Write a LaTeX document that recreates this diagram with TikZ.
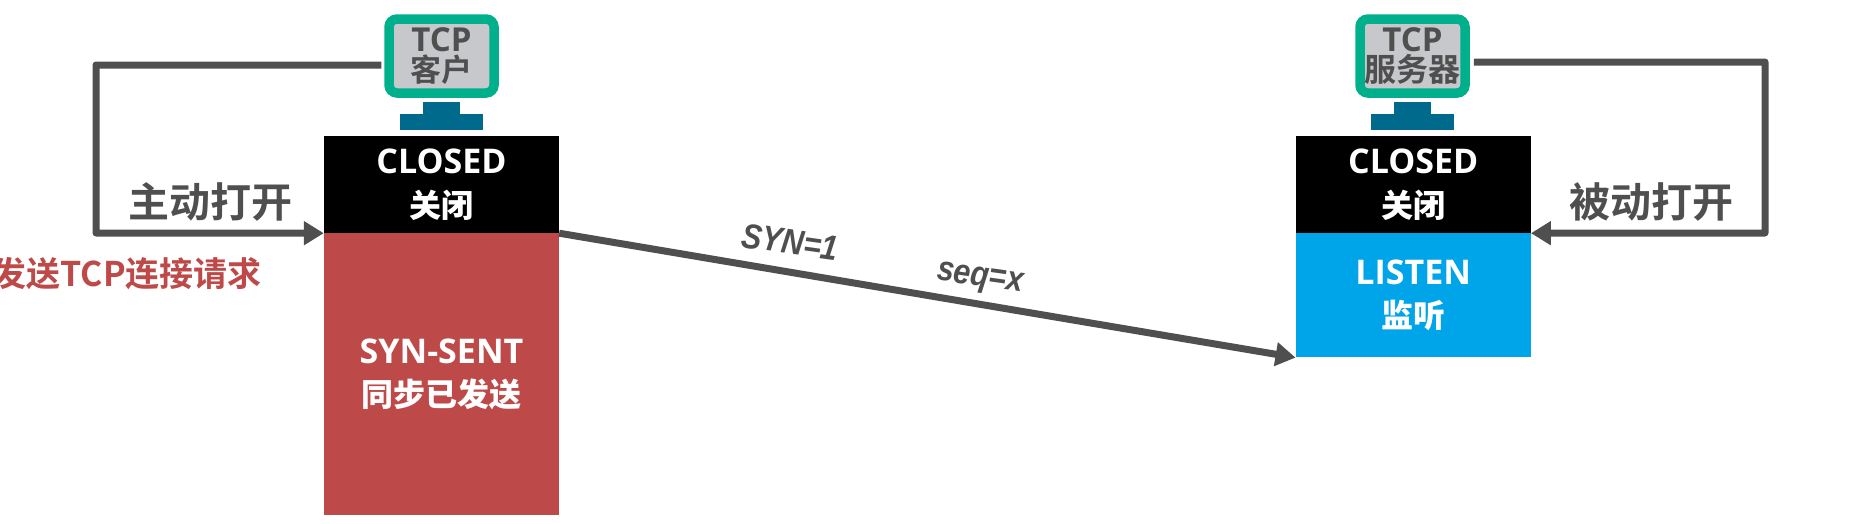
\documentclass[tikz,border=0pt]{standalone}
\usepackage{fontspec}
\setmainfont{Open Sans}
\newfontfamily\cjkbold{Noto Sans CJK SC Bold}
\newfontfamily\flagfont{Liberation Sans}
\usetikzlibrary{positioning,arrows.meta,calc}
\definecolor{linegray}{HTML}{4F4F4F}
\definecolor{screengreen}{HTML}{00B08C}
\definecolor{screengray}{HTML}{C6C8CC}
\definecolor{standteal}{HTML}{006A8C}
\definecolor{synred}{HTML}{BD4A48}
\definecolor{listenblue}{HTML}{00A4E8}
\newcommand{\px}[1]{\fontsize{#1}{#1}\selectfont}
\newcommand{\narrowed}[1]{\scalebox{0.87}[1]{#1}}

\begin{document}
\begin{tikzpicture}[
    x=1pt, y=-1pt,
    node distance=0pt,
    state/.style={rectangle, minimum width=235pt, inner sep=0pt, text=white, align=center, font=\bfseries\px{34}\linespread{1.25}\selectfont},
    screen/.style={rectangle, rounded corners=8pt, draw=screengreen, line width=9.5pt, fill=screengray, minimum width=105pt, minimum height=74pt, inner sep=0pt, text=linegray, align=center},
    stand/.style={rectangle, fill=standteal, inner sep=0pt},
    link/.style={draw=linegray, line width=7pt, line join=round, -{Triangle[length=20pt,width=23pt]}},
    note/.style={inner sep=0pt, text=linegray, font=\cjkbold\px{41}},
    flag/.style={inner sep=0pt, rotate=-8, text=linegray, font=\flagfont\bfseries\itshape\px{35}}
]
\useasboundingbox (0,0) rectangle (1852,523);

% client side
\node[state, fill=black, minimum height=97pt] (closeda) at (441.5,184.5) {CLOSED\\[1pt]{\cjkbold\px{32}关闭}};
\node[state, fill=synred, minimum height=282pt, below=of closeda] (synsent) {SYN-SENT\\[1pt]{\cjkbold\px{32}同步已发送}};
\node[screen] (moniA) at (441.5,56) {\bfseries\px{33}TCP\\[2pt]{\cjkbold\px{31}客户}};
\node[stand, minimum width=83pt, minimum height=16pt] (baseA) at (441.5,122) {};
\node[stand, minimum width=37pt, minimum height=12pt, above=of baseA] (neckA) {};

% server side
\node[state, fill=black, minimum height=97pt] (closedb) at (1413.25,184.5) {CLOSED\\[1pt]{\cjkbold\px{32}关闭}};
\node[state, fill=listenblue, minimum height=124pt, below=of closedb] (listen) {LISTEN\\[1pt]{\cjkbold\px{32}监听}};
\node[screen] (moniB) at (1412.5,56) {\bfseries\px{33}TCP\\[2pt]{\cjkbold\px{32}服务器}};
\node[stand, minimum width=83pt, minimum height=16pt] (baseB) at (1412.5,122) {};
\node[stand, minimum width=37pt, minimum height=12pt, above=of baseB] (neckB) {};

\coordinate (bendA) at (96,233);
\coordinate (bendB) at (1765,233);

\draw[link] ([shift={(-3pt,-9pt)}]moniA.west) -| (bendA) -- (closeda.south west);
\draw[link] ([shift={(4pt,-6pt)}]moniB.east) -| (bendB) -- (closedb.south east);
\draw[link] (closeda.south east) -- (listen.south west);

\node[note] (activeopen) at (210,202) {主动打开};
\node[note] (passiveopen) at (1651,202) {被动打开};
\node[inner sep=0pt, anchor=east, text=synred, font=\cjkbold\px{34}] (request) at (262,274) {发送TCP连接请求};

\node[flag] (synflag) at (790,242) {\narrowed{SYN=1}};
\node[flag] (seqnum) at (980,280) {\narrowed{seq=x}};

\end{tikzpicture}
\end{document}
